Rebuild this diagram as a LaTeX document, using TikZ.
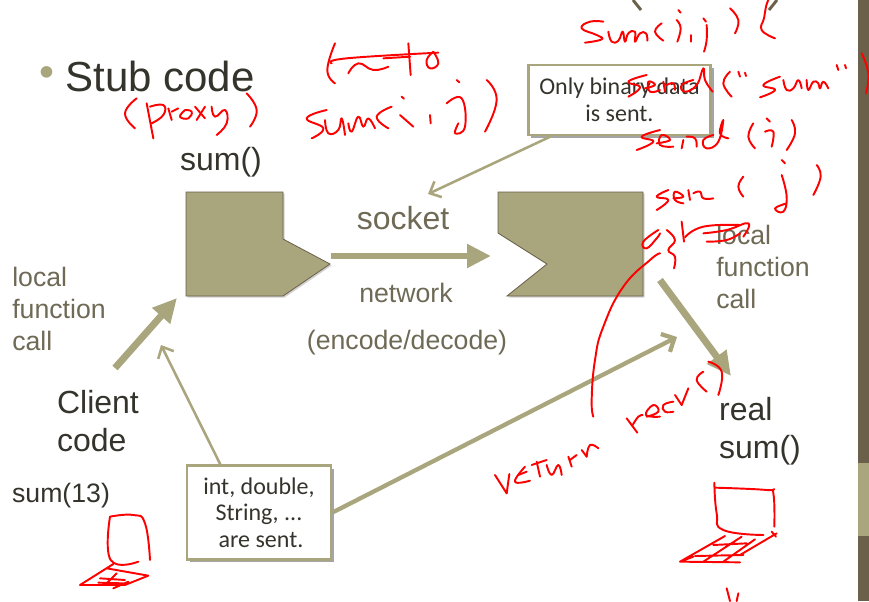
\documentclass[tikz,border=0pt]{standalone}
\usepackage{fontspec}
\setmainfont{Liberation Sans}
\newfontfamily\boxfont{Carlito}
\usetikzlibrary{arrows.meta,shadows}
\definecolor{olive}{HTML}{A9A57C}
\definecolor{bandc}{HTML}{6B6049}
\definecolor{darktext}{HTML}{35342C}
\definecolor{softtext}{HTML}{6F6A56}
\pgfdeclareradialshading{slidebg}{\pgfpoint{0bp}{0bp}}{color(0bp)=(white); color(36bp)=(white); color(50bp)=(black!5); color(71bp)=(black!14)}
\tikzset{
    big/.style={text=darktext,font=\fontsize{24}{28.5}\selectfont,align=left},
    soft/.style={text=softtext,font=\fontsize{20}{24}\selectfont,align=left},
    softbig/.style={text=softtext,font=\fontsize{24}{28.5}\selectfont},
    note/.style={draw=olive,line width=2.2pt,fill=white,text=darktext,align=center,
        font=\boxfont\fontsize{18}{20}\selectfont,inner sep=0pt,
        drop shadow={shadow xshift=2pt,shadow yshift=-2pt,opacity=.5,fill=black!70}},
    block/.style={fill=olive,draw=bandc,line width=.6pt,
        drop shadow={shadow xshift=1.2pt,shadow yshift=-1.2pt,opacity=.3,fill=black!60}},
    fat/.style={draw=olive,line width=5.2pt,-{Triangle[length=18pt,width=17pt]}},
    thin/.style={draw=olive,line width=1.9pt,-{Straight Barb[length=7pt,width=13pt]}},
    thick thin/.style={draw=olive,line width=3.2pt,-{Straight Barb[length=7.5pt,width=15pt]}},
    inkline/.style={draw=red,line width=1.45pt,line cap=round,line join=round}
}
\newcommand{\ink}[1]{\draw[inkline] plot[smooth,tension=.8] coordinates {#1};}
\begin{document}
\begin{tikzpicture}[x=.75pt,y=-.75pt]
    \useasboundingbox (0,0) rectangle (869,601);
    \shade[shading=slidebg] (0,0) rectangle (869,601);
    \fill[bandc] (858,0) rectangle (869,601);
    \fill[olive] (858,463) rectangle (869,536);
    %title cut off at the top
    \draw[bandc,line width=2.2pt] (633,0)--(641,10) (777,0)--(769,10);
    %stub blocks
    \draw[block] (186,192)--(283,192)--(283,239)--(330,264)--(283,296)--(186,296)--cycle;
    \draw[block] (498,192)--(643,192)--(643,296)--(507,296)--(547,264)--(498,233)--cycle;
    %free ends of the arrows
    \coordinate (tipL) at (331,256);
    \coordinate (notchR) at (491,256);
    \coordinate (cliFrom) at (115,368);
    \coordinate (cliTo) at (177,298);
    \coordinate (realFrom) at (660,280);
    \coordinate (realTo) at (731,376);
    \coordinate (sockTo) at (428,194);
    \coordinate (stubTo) at (161,345);
    \coordinate (skelTo) at (677,337);
    %boxes
    \node[note,minimum width=137pt,minimum height=52.5pt] (binbox) at (619.5,100) {Only binary data\\is sent.};
    \node[note,minimum width=108pt,minimum height=70pt] (intbox) at (259,512.5) {int, double,\\String, ...\\\hspace*{3pt}are sent.};
    \draw[fat] (tipL)--(notchR);
    \draw[fat] (cliFrom)--(cliTo);
    \draw[fat] (realFrom)--(realTo);
    \draw[thin] ([xshift=18pt]binbox.south west)--(sockTo);
    \draw[thin] ([xshift=-29pt]intbox.north)--(stubTo);
    \draw[thick thin] (intbox.east)--(skelTo);
    %labels
    \path
    (47,77) node[text=olive,font=\fontsize{32}{36}\selectfont] (dot) {•}
    (160,76) node[text=darktext,font=\fontsize{31.5}{36}\selectfont] (stub) {Stub code}
    (221,162) node[big] (sumL) {sum()}
    (403,218) node[softbig] (socket) {socket}
    (406,293) node[soft] (net) {network}
    (407,343) node[soft] (enc) {(encode/decode)}
    (59,309) node[soft] (callL) {local\\function\\call}
    (763,267) node[soft] (callR) {local\\function\\call}
    (98,421) node[big] (client) {Client\\code}
    (760,431) node[big] (real) {real\\sum()}
    (61,496) node[text=darktext,font=\fontsize{20}{24}\selectfont] (sum13) {sum(13)}
    ;
    %pen strokes on top right, numbers are crop units
    \begin{scope}[shift={(560,0)},x=.25pt,y=-.25pt]
        \ink{(130,65)(90,65)(65,85)(110,105)(125,118)(75,128)}
        \ink{(145,95)(155,125)(175,122)(188,95)(195,125)(205,100)(225,95)(225,125)(240,100)(258,100)(262,122)}
        \ink{(305,70)(285,95)(310,122)}
        \ink{(355,30)(362,38)}
        \ink{(350,60)(362,85)(352,125)}
        \ink{(392,105)(392,125)}
        \ink{(430,55)(438,65)}
        \ink{(440,75)(440,120)(432,155)}
        \ink{(510,25)(535,60)(525,100)}
        \ink{(625,0)(618,20)(612,55)(605,90)(645,115)}
        %send
        \ink{(260,225)(205,245)(240,262)(205,290)}
        \ink{(255,265)(285,255)(265,245)(270,275)(300,270)}
        \ink{(310,245)(315,275)}
        \ink{(320,255)(340,250)(345,270)}
        \ink{(400,240)(365,255)(375,275)(410,255)(430,205)(435,240)(458,275)}
        \ink{(510,215)(490,250)(515,290)}
        \ink{(535,215)(540,230)}
        \ink{(555,218)(558,228)}
        \ink{(660,230)(610,255)(645,270)(600,292)}
        \ink{(670,240)(680,270)(700,265)(715,240)(725,265)}
        \ink{(740,240)(745,270)(760,245)(775,250)(780,265)(790,245)(805,265)}
        \ink{(830,195)(835,210)}
        \ink{(855,195)(858,205)}
        \ink{(905,160)(925,220)(918,280)}
        \ink{(300,390)(245,410)(280,425)(230,450)}
        \ink{(290,430)(330,420)(305,405)(300,435)(340,440)}
        \ink{(370,420)(365,445)}
        \ink{(380,410)(405,415)(410,440)}
        \ink{(460,405)(430,420)(440,445)(475,425)(490,360)(480,400)(505,415)}
        \ink{(580,370)(565,410)(585,445)}
        \ink{(620,355)(630,365)}
        \ink{(615,395)(640,395)(635,440)}
        \ink{(695,360)(705,400)(680,450)}
        \ink{(325,570)(290,590)(325,600)(290,630)}
        \ink{(340,595)(370,590)(345,575)(345,600)(370,610)}
        \ink{(385,570)(390,600)}
        \ink{(400,580)(420,575)(430,595)(460,595)}
        \ink{(550,530)(535,560)(550,590)}
        \ink{(665,480)(675,490)}
        \ink{(665,525)(680,590)(670,635)(645,625)(680,610)}
        \ink{(770,495)(782,530)(760,585)}
        %scratched word
        \ink{(295,690)(250,725)(260,745)(290,715)(300,700)}
        \ink{(320,690)(345,720)(325,750)(345,770)(342,805)}
        \ink{(365,665)(372,725)}
        \ink{(375,712)(430,680)(540,675)}
        \ink{(430,700)(500,690)(565,670)(550,710)}
        \ink{(440,725)(500,720)(540,700)}
    \end{scope}
    %pen strokes near the title
    \begin{scope}[shift={(100,30)},x=.25pt,y=-.25pt]
        \ink{(110,205)(75,250)(105,295)}
        \ink{(140,220)(160,325)}
        \ink{(150,230)(190,225)(190,255)(155,280)}
        \ink{(205,235)(215,270)}
        \ink{(215,245)(235,235)}
        \ink{(255,240)(240,260)(265,265)(275,245)(255,240)}
        \ink{(285,230)(315,265)}
        \ink{(315,230)(290,270)}
        \ink{(335,230)(345,260)(375,240)(380,280)(350,315)}
        \ink{(440,190)(470,240)(450,290)}
        \ink{(705,40)(682,120)(705,160)}
        \ink{(695,100)(740,85)(1015,68)}
        \ink{(850,85)(930,80)}
        \ink{(745,130)(775,100)(820,120)(865,110)}
        \ink{(925,40)(932,135)}
        \ink{(1000,65)(980,90)(990,115)(1015,100)(1000,65)}
        \ink{(680,240)(620,265)(670,295)(635,325)}
        \ink{(675,270)(685,310)(715,300)(725,265)(735,315)}
        \ink{(745,280)(755,305)(775,260)(790,290)(805,265)(825,295)}
        \ink{(875,230)(830,260)(865,295)}
        \ink{(905,200)(912,206)}
        \ink{(900,255)(940,290)}
        \ink{(990,255)(992,280)}
        \ink{(1070,150)(1078,157)}
        \ink{(1040,220)(1085,205)(1095,290)(1065,310)(1075,280)}
        \ink{(1160,150)(1190,210)(1155,305)}
    \end{scope}
    %return recv
    \begin{scope}[shift={(490,350)},x=.25pt,y=-.25pt]
        \ink{(15,375)(50,430)}
        \ink{(50,430)(58,372)}
        \ink{(105,350)(75,395)(120,392)}
        \ink{(85,375)(110,365)}
        \ink{(140,335)(150,380)}
        \ink{(125,345)(170,330)}
        \ink{(170,345)(185,375)(205,345)(215,375)}
        \ink{(235,320)(245,350)}
        \ink{(240,330)(260,315)}
        \ink{(275,300)(290,320)}
        \ink{(290,320)(300,285)(325,295)}
        \ink{(410,205)(442,248)}
        \ink{(428,225)(445,200)(458,195)}
        \ink{(470,200)(505,185)(490,165)(468,195)(510,200)}
        \ink{(550,155)(520,165)(525,185)(550,185)}
        \ink{(555,135)(575,165)}
        \ink{(575,165)(595,115)}
        \ink{(640,65)(620,90)(650,125)}
        \ink{(655,35)(695,65)(685,135)}
    \end{scope}
    %long curve, right laptop
    \begin{scope}[shift={(480,260)},x=.25pt,y=-.25pt]
        \ink{(540,-20)(510,0)(430,80)(370,200)(345,300)(335,420)(340,470)}
        \ink{(703,668)(710,760)(730,810)(850,825)}
        \ink{(705,683)(860,690)(880,700)(883,800)}
        \draw[inkline] (735,828)--(600,905)--(780,907) (780,885)--(890,820)
            (700,855)--(800,850) (645,888)--(790,885) (785,830)--(670,905)
            (825,838)--(730,905) (875,815)--(888,830) (600,905)--(640,890);
        \ink{(740,985)(750,1023)}
        \ink{(775,1000)(770,1023)}
    \end{scope}
    %left laptop
    \begin{scope}[shift={(0,440)},x=.25pt,y=-.25pt]
        \ink{(330,230)(332,360)(415,365)}
        \ink{(330,230)(400,225)(435,250)(450,360)}
        \draw[inkline] (340,372)--(240,435)--(375,435)--(445,407)--(320,385)
            (300,415)--(375,420) (295,428)--(370,430) (350,400)--(315,435) (385,425)--(340,445);
    \end{scope}
\end{tikzpicture}
\end{document}
